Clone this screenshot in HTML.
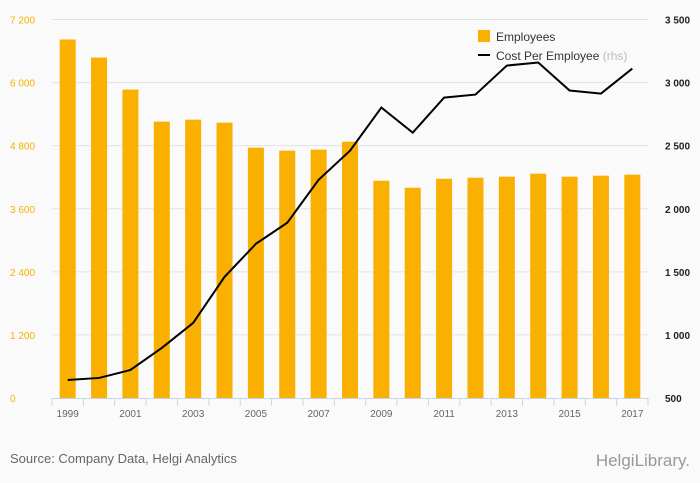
<!DOCTYPE html>
<html><head><meta charset="utf-8"><style>
body{margin:0;background:#fafafa;}
svg{display:block;font-family:"Liberation Sans",sans-serif;}
</style></head><body>
<svg width="700" height="483" id="c">
<rect width="700" height="483" fill="#fafafa"/>
<g id="grid"></g><g id="bars"></g><g id="axes"></g><path id="line" fill="none" stroke="#000" stroke-width="2"/>
<g>
<rect x="478" y="30" width="12" height="12" fill="#f9b000"/>
<text x="496" y="41" font-size="12" fill="#333">Employees</text>
<line x1="478" y1="55" x2="490" y2="55" stroke="#000" stroke-width="2"/>
<text x="496" y="60" font-size="12" fill="#333">Cost Per Employee <tspan fill="#bbb">(rhs)</tspan></text>
</g>
<text x="10" y="463" font-size="13" fill="#666">Source: Company Data, Helgi Analytics</text>
<text x="690" y="466" font-size="17" fill="#999" text-anchor="end">HelgiLibrary.</text>
</svg>
<script>
const years=[1999,2000,2001,2002,2003,2004,2005,2006,2007,2008,2009,2010,2011,2012,2013,2014,2015,2016,2017];
const employees=[6820,6476,5867,5257,5295,5238,4762,4705,4724,4876,4133,4000,4171,4190,4210,4267,4210,4229,4248];
const costPerEmployee=[643,659,722,897,1095,1460,1722,1889,2230,2460,2802,2603,2881,2905,3135,3159,2937,2913,3111];
const leftTicks=[0,1200,2400,3600,4800,6000,7200];
const rightTicks=[500,1000,1500,2000,2500,3000,3500];
const NS="http://www.w3.org/2000/svg";
const X0=52,X1=648,Y0=398,Y1=19.5;
const bw=(X1-X0)/years.length;
const xc=i=>X0+bw*(i+0.5);
const yl=v=>Y0-(v/7200)*(Y0-Y1);
const yr=v=>Y0-((v-500)/3000)*(Y0-Y1);
function mk(t,a,p){const e=document.createElementNS(NS,t);for(const k in a)e.setAttribute(k,a[k]);p.appendChild(e);return e;}
const grid=document.getElementById('grid'),bars=document.getElementById('bars'),axes=document.getElementById('axes');
leftTicks.forEach((v,i)=>{
 const y=yl(v);
 if(v>0){const g=mk('line',{x1:X0,x2:X1,y1:y,y2:y,stroke:'#e3e3e3','stroke-width':1},grid);
 
 }
 const t=mk('text',{x:10,y:y+4,'font-size':10,fill:'#f9b000'},axes);t.textContent=v.toLocaleString('en').replace(',',' ');
 
 
});
rightTicks.forEach(v=>{
 const t=mk('text',{x:665,y:yr(v)+4,'font-size':10,fill:'#222','font-weight':'bold'},axes);t.textContent=v>=1000?v.toLocaleString('en').replace(',',' '):v;
 
 
});
years.forEach((yv,i)=>{
 const b=mk('rect',{x:xc(i)-8,y:yl(employees[i]),width:16,height:Y0-yl(employees[i]),fill:'#f9b000'},bars);
 
 
 if(i%2==0){const t=mk('text',{x:xc(i),y:417,'font-size':10,fill:'#666','text-anchor':'middle'},axes);t.textContent=yv;
 
 }
});
for(let i=0;i<=years.length;i++){mk('line',{x1:X0+bw*i,x2:X0+bw*i,y1:Y0,y2:Y0+8,stroke:'#c8d4e6'},axes);}
mk('line',{x1:X0,x2:X1,y1:Y0+0.5,y2:Y0+0.5,stroke:'#c8d4e6'},axes);
document.getElementById('line').setAttribute('d',costPerEmployee.map((v,i)=>(i?'L':'M')+xc(i)+','+yr(v)).join(''));
</script>
</body></html>
